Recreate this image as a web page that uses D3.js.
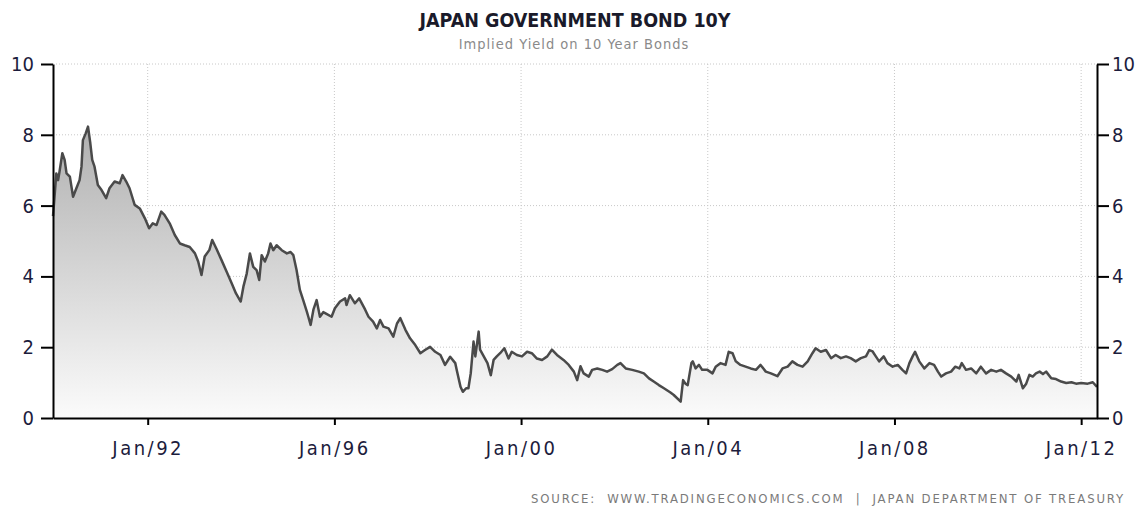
<!DOCTYPE html>
<html>
<head>
<meta charset="utf-8">
<script src="https://cdn.jsdelivr.net/npm/d3@7.9.0/dist/d3.min.js"></script>
<style>
  body { margin: 0; background: #fff; }
  text { font-family: "DejaVu Sans Condensed", "DejaVu Sans", sans-serif; font-stretch: condensed; }
</style>
</head>
<body>
<svg id="chart"></svg>
<script>
// JGB 10Y implied yield (decimal years)
const years = [
  1989.97, 1990.00, 1990.04, 1990.08, 1990.11, 1990.17, 1990.22, 1990.26, 1990.33, 1990.40,
  1990.47, 1990.54, 1990.58, 1990.61, 1990.67, 1990.72, 1990.77, 1990.81, 1990.86, 1990.93,
  1991.01, 1991.11, 1991.18, 1991.29, 1991.40, 1991.46, 1991.54, 1991.61, 1991.72, 1991.83,
  1991.94, 1992.03, 1992.11, 1992.19, 1992.29, 1992.36, 1992.47, 1992.58, 1992.69, 1992.79,
  1992.90, 1993.01, 1993.08, 1993.15, 1993.22, 1993.32, 1993.38, 1993.47, 1993.58, 1993.69,
  1993.80, 1993.89, 1993.99, 1994.05, 1994.12, 1994.19, 1994.26, 1994.33, 1994.39, 1994.44,
  1994.51, 1994.58, 1994.63, 1994.69, 1994.76, 1994.87, 1994.98, 1995.06, 1995.12, 1995.19,
  1995.26, 1995.33, 1995.41, 1995.44, 1995.49, 1995.55, 1995.62, 1995.69, 1995.76, 1995.83,
  1995.94, 1996.01, 1996.12, 1996.23, 1996.26, 1996.33, 1996.44, 1996.53, 1996.66, 1996.73,
  1996.83, 1996.91, 1996.98, 1997.05, 1997.16, 1997.26, 1997.34, 1997.41, 1997.52, 1997.62,
  1997.73, 1997.84, 1997.94, 1998.05, 1998.16, 1998.27, 1998.37, 1998.48, 1998.59, 1998.62,
  1998.70, 1998.75, 1998.82, 1998.87, 1998.92, 1998.98, 1999.02, 1999.09, 1999.12, 1999.20,
  1999.28, 1999.35, 1999.41, 1999.48, 1999.55, 1999.64, 1999.73, 1999.80, 1999.91, 2000.02,
  2000.13, 2000.23, 2000.34, 2000.45, 2000.56, 2000.66, 2000.77, 2000.91, 2001.02, 2001.13,
  2001.20, 2001.27, 2001.34, 2001.45, 2001.52, 2001.63, 2001.74, 2001.84, 2001.95, 2002.06,
  2002.13, 2002.24, 2002.38, 2002.52, 2002.63, 2002.74, 2002.84, 2002.95, 2003.06, 2003.20,
  2003.27, 2003.42, 2003.47, 2003.52, 2003.57, 2003.65, 2003.68, 2003.74, 2003.81, 2003.88,
  2003.99, 2004.10, 2004.17, 2004.27, 2004.38, 2004.45, 2004.53, 2004.60, 2004.70, 2004.81,
  2004.92, 2005.03, 2005.13, 2005.24, 2005.35, 2005.49, 2005.60, 2005.71, 2005.81, 2005.92,
  2006.03, 2006.14, 2006.24, 2006.31, 2006.42, 2006.53, 2006.64, 2006.74, 2006.85, 2006.96,
  2007.06, 2007.17, 2007.28, 2007.39, 2007.46, 2007.53, 2007.60, 2007.67, 2007.77, 2007.85,
  2007.96, 2008.07, 2008.17, 2008.25, 2008.32, 2008.39, 2008.44, 2008.53, 2008.64, 2008.75,
  2008.85, 2008.93, 2009.00, 2009.10, 2009.21, 2009.30, 2009.39, 2009.44, 2009.53, 2009.64,
  2009.75, 2009.85, 2009.96, 2010.07, 2010.18, 2010.28, 2010.39, 2010.50, 2010.61, 2010.66,
  2010.75, 2010.82, 2010.89, 2010.96, 2011.03, 2011.11, 2011.18, 2011.25, 2011.36, 2011.46,
  2011.57, 2011.68, 2011.79, 2011.89, 2012.00, 2012.14, 2012.25, 2012.34
];
const yields = [
  5.70, 6.20, 6.91, 6.72, 6.96, 7.48, 7.29, 6.91, 6.82, 6.25,
  6.49, 6.72, 7.10, 7.85, 8.04, 8.23, 7.76, 7.29, 7.10, 6.58,
  6.44, 6.21, 6.49, 6.68, 6.63, 6.86, 6.68, 6.49, 6.02, 5.92,
  5.64, 5.36, 5.50, 5.45, 5.83, 5.74, 5.50, 5.17, 4.93, 4.88,
  4.83, 4.65, 4.42, 4.04, 4.56, 4.75, 5.03, 4.78, 4.46, 4.13,
  3.80, 3.52, 3.29, 3.71, 4.08, 4.65, 4.27, 4.18, 3.90, 4.60,
  4.42, 4.65, 4.93, 4.74, 4.88, 4.74, 4.65, 4.69, 4.60, 4.18,
  3.62, 3.33, 3.00, 2.86, 2.63, 3.06, 3.33, 2.86, 2.99, 2.94,
  2.86, 3.10, 3.29, 3.38, 3.19, 3.47, 3.24, 3.38, 3.06, 2.86,
  2.72, 2.53, 2.77, 2.58, 2.53, 2.30, 2.67, 2.82, 2.49, 2.25,
  2.06, 1.83, 1.92, 2.01, 1.87, 1.78, 1.50, 1.73, 1.55, 1.36,
  0.88, 0.74, 0.84, 0.84, 1.26, 2.16, 1.74, 2.44, 1.93, 1.74,
  1.55, 1.21, 1.64, 1.74, 1.83, 1.97, 1.68, 1.87, 1.78, 1.74,
  1.87, 1.83, 1.68, 1.64, 1.74, 1.93, 1.78, 1.64, 1.50, 1.31,
  1.07, 1.46, 1.26, 1.17, 1.36, 1.40, 1.36, 1.31, 1.38, 1.50,
  1.55, 1.40, 1.36, 1.31, 1.26, 1.12, 1.03, 0.93, 0.84, 0.72,
  0.65, 0.46, 1.07, 0.97, 0.93, 1.55, 1.60, 1.40, 1.50, 1.36,
  1.36, 1.26, 1.45, 1.55, 1.50, 1.87, 1.83, 1.60, 1.50, 1.45,
  1.40, 1.36, 1.50, 1.31, 1.26, 1.18, 1.40, 1.45, 1.60, 1.50,
  1.45, 1.60, 1.83, 1.97, 1.87, 1.92, 1.69, 1.78, 1.69, 1.74,
  1.69, 1.60, 1.69, 1.74, 1.92, 1.88, 1.74, 1.60, 1.74, 1.55,
  1.45, 1.50, 1.36, 1.26, 1.55, 1.74, 1.87, 1.60, 1.40, 1.55,
  1.50, 1.31, 1.17, 1.26, 1.31, 1.45, 1.40, 1.55, 1.36, 1.40,
  1.26, 1.45, 1.26, 1.36, 1.31, 1.36, 1.26, 1.17, 1.03, 1.22,
  0.84, 0.97, 1.22, 1.17, 1.26, 1.31, 1.24, 1.31, 1.12, 1.10,
  1.03, 0.99, 1.01, 0.97, 0.99, 0.97, 1.01, 0.88
];
const tickYears = [1992, 1996, 2000, 2004, 2008, 2012];
const yTicks = [0, 2, 4, 6, 8, 10];

const title = 'JAPAN GOVERNMENT BOND 10Y';
const subtitle = 'Implied Yield on 10 Year Bonds';
const source = 'SOURCE:  WWW.TRADINGECONOMICS.COM  |  JAPAN DEPARTMENT OF TREASURY';

function toDate(y) {
  const yr = Math.floor(y);
  return new Date(yr, 0, 1 + Math.round((y - yr) * 365.25));
}

const data = years.map((y, i) => ({ date: toDate(y), value: yields[i] }));

const width = 1139;
const height = 506;
const margin = { top: 64, right: 42, bottom: 88, left: 53 };

const svg = d3.select('#chart')
  .attr('width', width)
  .attr('height', height);

const xScale = d3.scaleTime()
  .domain(d3.extent(data, d => d.date))
  .range([margin.left, width - margin.right]);

const yScale = d3.scaleLinear()
  .domain([0, 10])
  .range([height - margin.bottom, margin.top]);

// gradient under the line
const grad = svg.append('defs').append('linearGradient')
  .attr('id', 'fillgrad')
  .attr('gradientUnits', 'userSpaceOnUse')
  .attr('x1', 0).attr('x2', 0)
  .attr('y1', yScale(10)).attr('y2', yScale(0));
grad.append('stop').attr('offset', '0%').attr('stop-color', '#a0a0a0');
grad.append('stop').attr('offset', '100%').attr('stop-color', '#fbfbfb');

// dotted grid
svg.append('g')
  .selectAll('line')
  .data(yTicks.filter(d => d > 0))
  .join('line')
    .attr('x1', margin.left).attr('x2', width - margin.right)
    .attr('y1', d => yScale(d)).attr('y2', d => yScale(d))
    .attr('stroke', '#c8c8c8')
    .attr('stroke-dasharray', '1,2');

svg.append('g')
  .selectAll('line')
  .data(tickYears)
  .join('line')
    .attr('x1', d => xScale(new Date(d, 0, 1))).attr('x2', d => xScale(new Date(d, 0, 1)))
    .attr('y1', margin.top).attr('y2', height - margin.bottom)
    .attr('stroke', '#c8c8c8')
    .attr('stroke-dasharray', '1,2');

// area + line
const area = d3.area()
  .x(d => xScale(d.date))
  .y0(yScale(0))
  .y1(d => yScale(d.value));

const line = d3.line()
  .x(d => xScale(d.date))
  .y(d => yScale(d.value));

svg.append('path')
  .datum(data)
  .attr('fill', 'url(#fillgrad)')
  .attr('d', area);

svg.append('path')
  .datum(data)
  .attr('fill', 'none')
  .attr('stroke', '#4a4a4a')
  .attr('stroke-width', 2.5)
  .attr('stroke-linejoin', 'round')
  .attr('d', line);

// axes
const labelColor = '#1c1c3c';

const xAxis = d3.axisBottom(xScale)
  .tickValues(tickYears.map(y => new Date(y, 0, 1)))
  .tickFormat(d3.timeFormat('Jan/%y'))
  .tickSizeInner(7)
  .tickSizeOuter(0)
  .tickPadding(16);

const yAxisL = d3.axisLeft(yScale)
  .tickValues(yTicks)
  .tickSizeInner(12)
  .tickSizeOuter(0)
  .tickPadding(7);

const yAxisR = d3.axisRight(yScale)
  .tickValues(yTicks)
  .tickSizeInner(12)
  .tickSizeOuter(0)
  .tickPadding(3);

function styleAxis(g) {
  g.select('.domain').attr('stroke', '#000').attr('stroke-width', 2);
  g.selectAll('.tick line').attr('stroke', '#000').attr('stroke-width', 2);
  g.selectAll('.tick text')
    .attr('fill', labelColor)
    .style('font-size', '20px')
    .style('font-family', '"DejaVu Sans Condensed", "DejaVu Sans", sans-serif');
}

svg.append('g')
  .attr('class', 'x axis')
  .attr('transform', `translate(0, ${height - margin.bottom})`)
  .call(xAxis)
  .call(styleAxis)
  .call(g => g.selectAll('.tick text').style('letter-spacing', '2.5px'));

svg.append('g')
  .attr('class', 'y axis')
  .attr('transform', `translate(${margin.left}, 0)`)
  .call(yAxisL)
  .call(styleAxis);

svg.append('g')
  .attr('class', 'y axis right')
  .attr('transform', `translate(${width - margin.right}, 0)`)
  .call(yAxisR)
  .call(styleAxis);

// titles
svg.append('text')
  .attr('x', 575).attr('y', 27)
  .attr('text-anchor', 'middle')
  .attr('fill', '#1a1a2a')
  .style('font-size', '19.5px')
  .style('font-weight', 'bold')
  .text(title);

svg.append('text')
  .attr('x', 574).attr('y', 49)
  .attr('text-anchor', 'middle')
  .attr('fill', '#8a8a8a')
  .style('font-size', '14.5px')
  .style('letter-spacing', '1px')
  .text(subtitle);

svg.append('text')
  .attr('x', 1125).attr('y', 503)
  .attr('text-anchor', 'end')
  .attr('fill', '#7a7a7a')
  .style('font-size', '13px')
  .style('letter-spacing', '1.85px')
  .style('white-space', 'pre')
  .text(source);
</script>
</body>
</html>
